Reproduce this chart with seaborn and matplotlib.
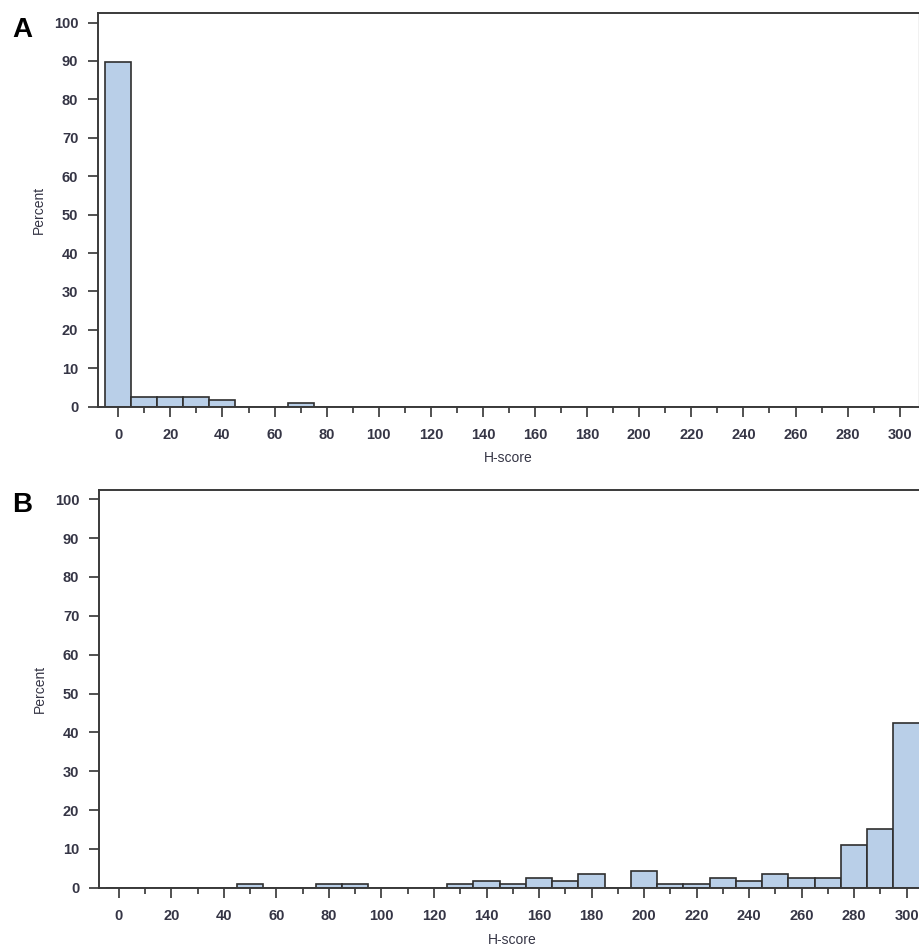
import matplotlib
matplotlib.use("Agg")
import matplotlib.pyplot as plt
import seaborn as sns
import pandas as pd
from matplotlib.ticker import MultipleLocator

sns.set_theme(style="white")
plt.rcParams['font.family'] = ['Liberation Sans', 'DejaVu Sans']

# Panel A: H-score bin centres and percent
a_centers = [0, 10, 20, 30, 40, 70]
a_percent = [89.7, 2.6, 2.6, 2.6, 1.7, 0.9]

# Panel B: H-score bin centres and percent
b_centers = [50, 80, 90, 130, 140, 150, 160, 170, 180, 200, 210, 220,
             230, 240, 250, 260, 270, 280, 290, 300]
b_percent = [0.9, 0.9, 0.9, 0.9, 1.7, 0.9, 2.6, 1.7, 3.4, 4.3, 0.9, 0.9,
             2.6, 1.7, 3.4, 2.6, 2.6, 10.9, 15.1, 42.3]

x_ticks = list(range(0, 301, 20))
y_ticks = list(range(0, 101, 10))

W, H = 920, 949
fig = plt.figure(figsize=(W / 100, H / 100), dpi=100)

def px_axes(left, top, right, bottom):
    return fig.add_axes([left / W, 1 - bottom / H, (right - left) / W, (bottom - top) / H])

ax_a = px_axes(97.7, 13.3, 919, 406.7)
ax_b = px_axes(98.7, 490, 946, 887.7)

bar_color = "#B9CFE8"
edge_color = "#2f2f2f"
label_color = "#353545"

configs = [
    (ax_a, a_centers, a_percent, (-7.9, 307.4), True, 0.5),
    (ax_b, b_centers, b_percent, (-7.7, 315.0), False, 0.488),
]

for ax, centers, pct, xlim, right_spine, xlab_pos in configs:
    df = pd.DataFrame({"hscore": centers, "percent": pct})
    sns.histplot(data=df, x="hscore", weights="percent", binwidth=10,
                 binrange=(-5, 305), ax=ax,
                 color=bar_color, edgecolor=edge_color, linewidth=1.2, alpha=1.0)
    ax.set_xlim(*xlim)
    ax.set_ylim(0, 102.4)
    ax.set_xticks(x_ticks)
    ax.set_yticks(y_ticks)
    ax.xaxis.set_minor_locator(MultipleLocator(10))
    ax.tick_params(axis='both', which='major', direction='out', length=7,
                   width=1.2, color="#333333", labelsize=10.5, labelcolor=label_color,
                   bottom=True, left=True)
    ax.tick_params(axis='x', which='minor', direction='out', length=4,
                   width=1.2, color="#333333", bottom=True)
    ax.tick_params(axis='x', which='major', pad=8)
    ax.tick_params(axis='y', which='major', pad=7)
    for lab in ax.get_xticklabels() + ax.get_yticklabels():
        lab.set_fontweight('bold')
    ax.set_xlabel("H-score", fontsize=10, color=label_color, labelpad=8)
    ax.xaxis.set_label_coords(xlab_pos, -0.113)
    ax.set_ylabel("Percent", fontsize=10, color=label_color, labelpad=6)
    for side in ['left', 'top', 'bottom']:
        ax.spines[side].set_color("#3a3a3a")
        ax.spines[side].set_linewidth(1.4)
    if right_spine:
        ax.spines['right'].set_color("#bbbbbb")
        ax.spines['right'].set_linewidth(1.0)
    else:
        ax.spines['right'].set_visible(False)
    ax.grid(False)

fig.text(12 / W, 1 - 37 / H, "A", fontsize=20, fontweight='bold', color='black',
         ha='left', va='baseline')
fig.text(12 / W, 1 - 512 / H, "B", fontsize=20, fontweight='bold', color='black',
         ha='left', va='baseline')

fig.savefig("out.png", dpi=100, facecolor='white')
